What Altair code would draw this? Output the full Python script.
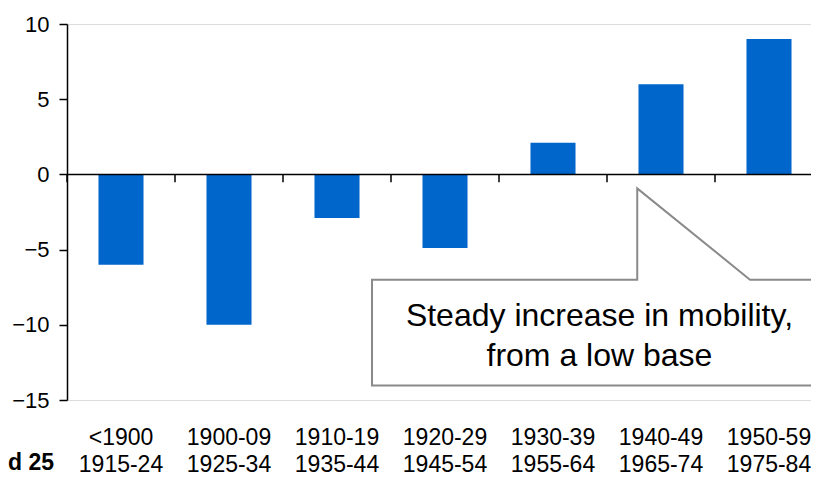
import altair as alt
import pandas as pd

# ---- data ----
birth_cohorts = ["<1900", "1900-09", "1910-19", "1920-29", "1930-39", "1940-49", "1950-59"]
aged25_periods = ["1915-24", "1925-34", "1935-44", "1945-54", "1955-64", "1965-74", "1975-84"]
mobility_change = [-6, -10, -2.9, -4.9, 2.1, 6, 9]
y_tick_values = [-15, -10, -5, 0, 5, 10]
row_label = "d 25"   # the part of the row label that is visible at the left edge
callout_lines = ["Steady increase in mobility,", "from a low base"]

# callout outline (x in category-slot units, y in chart units)
callout_x = [7.3, 2.824, 2.824, 5.28, 5.28, 6.324, 7.3]
callout_y = [-14.03, -14.03, -7.0, -7.0, -0.93, -7.0, -7.0]

FONT = "Liberation Sans"
BLUE = "#0066CC"
GREY = "#8a8a8a"

cats = [f"{a}|{b}" for a, b in zip(birth_cohorts, aged25_periods)]
df = pd.DataFrame({"cat": cats, "value": mobility_change})
n = len(cats)

STEP = 108
x_band = alt.Scale(domain=cats, range=[0, STEP * n], paddingInner=0.583, paddingOuter=0.2915)
y_scale = alt.Scale(domain=[-15, 10], nice=False, zero=False)
x_slot = alt.Scale(domain=[0, n], range=[0, STEP * n], nice=False, zero=False)

bars = alt.Chart(df).mark_bar(color=BLUE).encode(
    x=alt.X("cat:N", scale=x_band, sort=cats, title=None,
            axis=alt.Axis(domain=False, ticks=False, labelAngle=0,
                          labelExpr="split(datum.label, '|')",
                          labelFontSize=23, labelFont=FONT, labelColor="black",
                          labelPadding=26, labelLineHeight=27)),
    y=alt.Y("value:Q", scale=y_scale, title=None,
            axis=alt.Axis(values=y_tick_values, grid=False, labelFontSize=22,
                          labelFont=FONT, labelColor="black", tickColor="black",
                          tickSize=8, tickWidth=1.5, domainColor="black",
                          domainWidth=1.5, labelPadding=10)),
)

zero_line = alt.Chart(pd.DataFrame({"z": [0]})).mark_rule(
    color="black", strokeWidth=1.5).encode(y=alt.Y("z:Q", scale=y_scale))

ticks_df = pd.DataFrame({"b": list(range(n)), "y0": [0] * n, "y1": [-0.53] * n})
x_ticks = alt.Chart(ticks_df).mark_rule(color="black", strokeWidth=1.5).encode(
    x=alt.X("b:Q", scale=x_slot, axis=None),
    y=alt.Y("y0:Q", scale=y_scale),
    y2="y1:Q",
)

poly_df = pd.DataFrame({"x": callout_x, "y": callout_y, "o": list(range(len(callout_x)))})
callout = alt.Chart(poly_df).mark_line(color=GREY, strokeWidth=2, strokeJoin="miter").encode(
    x=alt.X("x:Q", scale=x_slot, axis=None),
    y=alt.Y("y:Q", scale=y_scale),
    order="o:Q",
)

callout_text = alt.Chart(pd.DataFrame({"x": [4.93], "y": [-9.42], "t": [callout_lines]})).mark_text(
    font=FONT, fontSize=32, color="black", align="center", baseline="middle", lineHeight=40
).encode(
    x=alt.X("x:Q", scale=x_slot, axis=None),
    y=alt.Y("y:Q", scale=y_scale),
    text="t",
)

row_text = alt.Chart(pd.DataFrame({"t": [row_label]})).mark_text(
    font=FONT, fontSize=23, fontWeight="bold", color="black", align="left",
    baseline="alphabetic"
).encode(x=alt.value(-59), y=alt.value(446), text="t:N")

annot = alt.layer(x_ticks, callout, callout_text, row_text)

chart = alt.layer(bars, zero_line, annot).resolve_scale(x="independent").properties(
    width=744, height=376,
    autosize=alt.AutoSizeParams(type="none"),
    padding={"left": 59, "top": 16, "right": 0, "bottom": 77},
).configure_view(stroke=None).configure(background="white")

chart.save("out.html", embed_options={"renderer": "svg", "actions": False})
